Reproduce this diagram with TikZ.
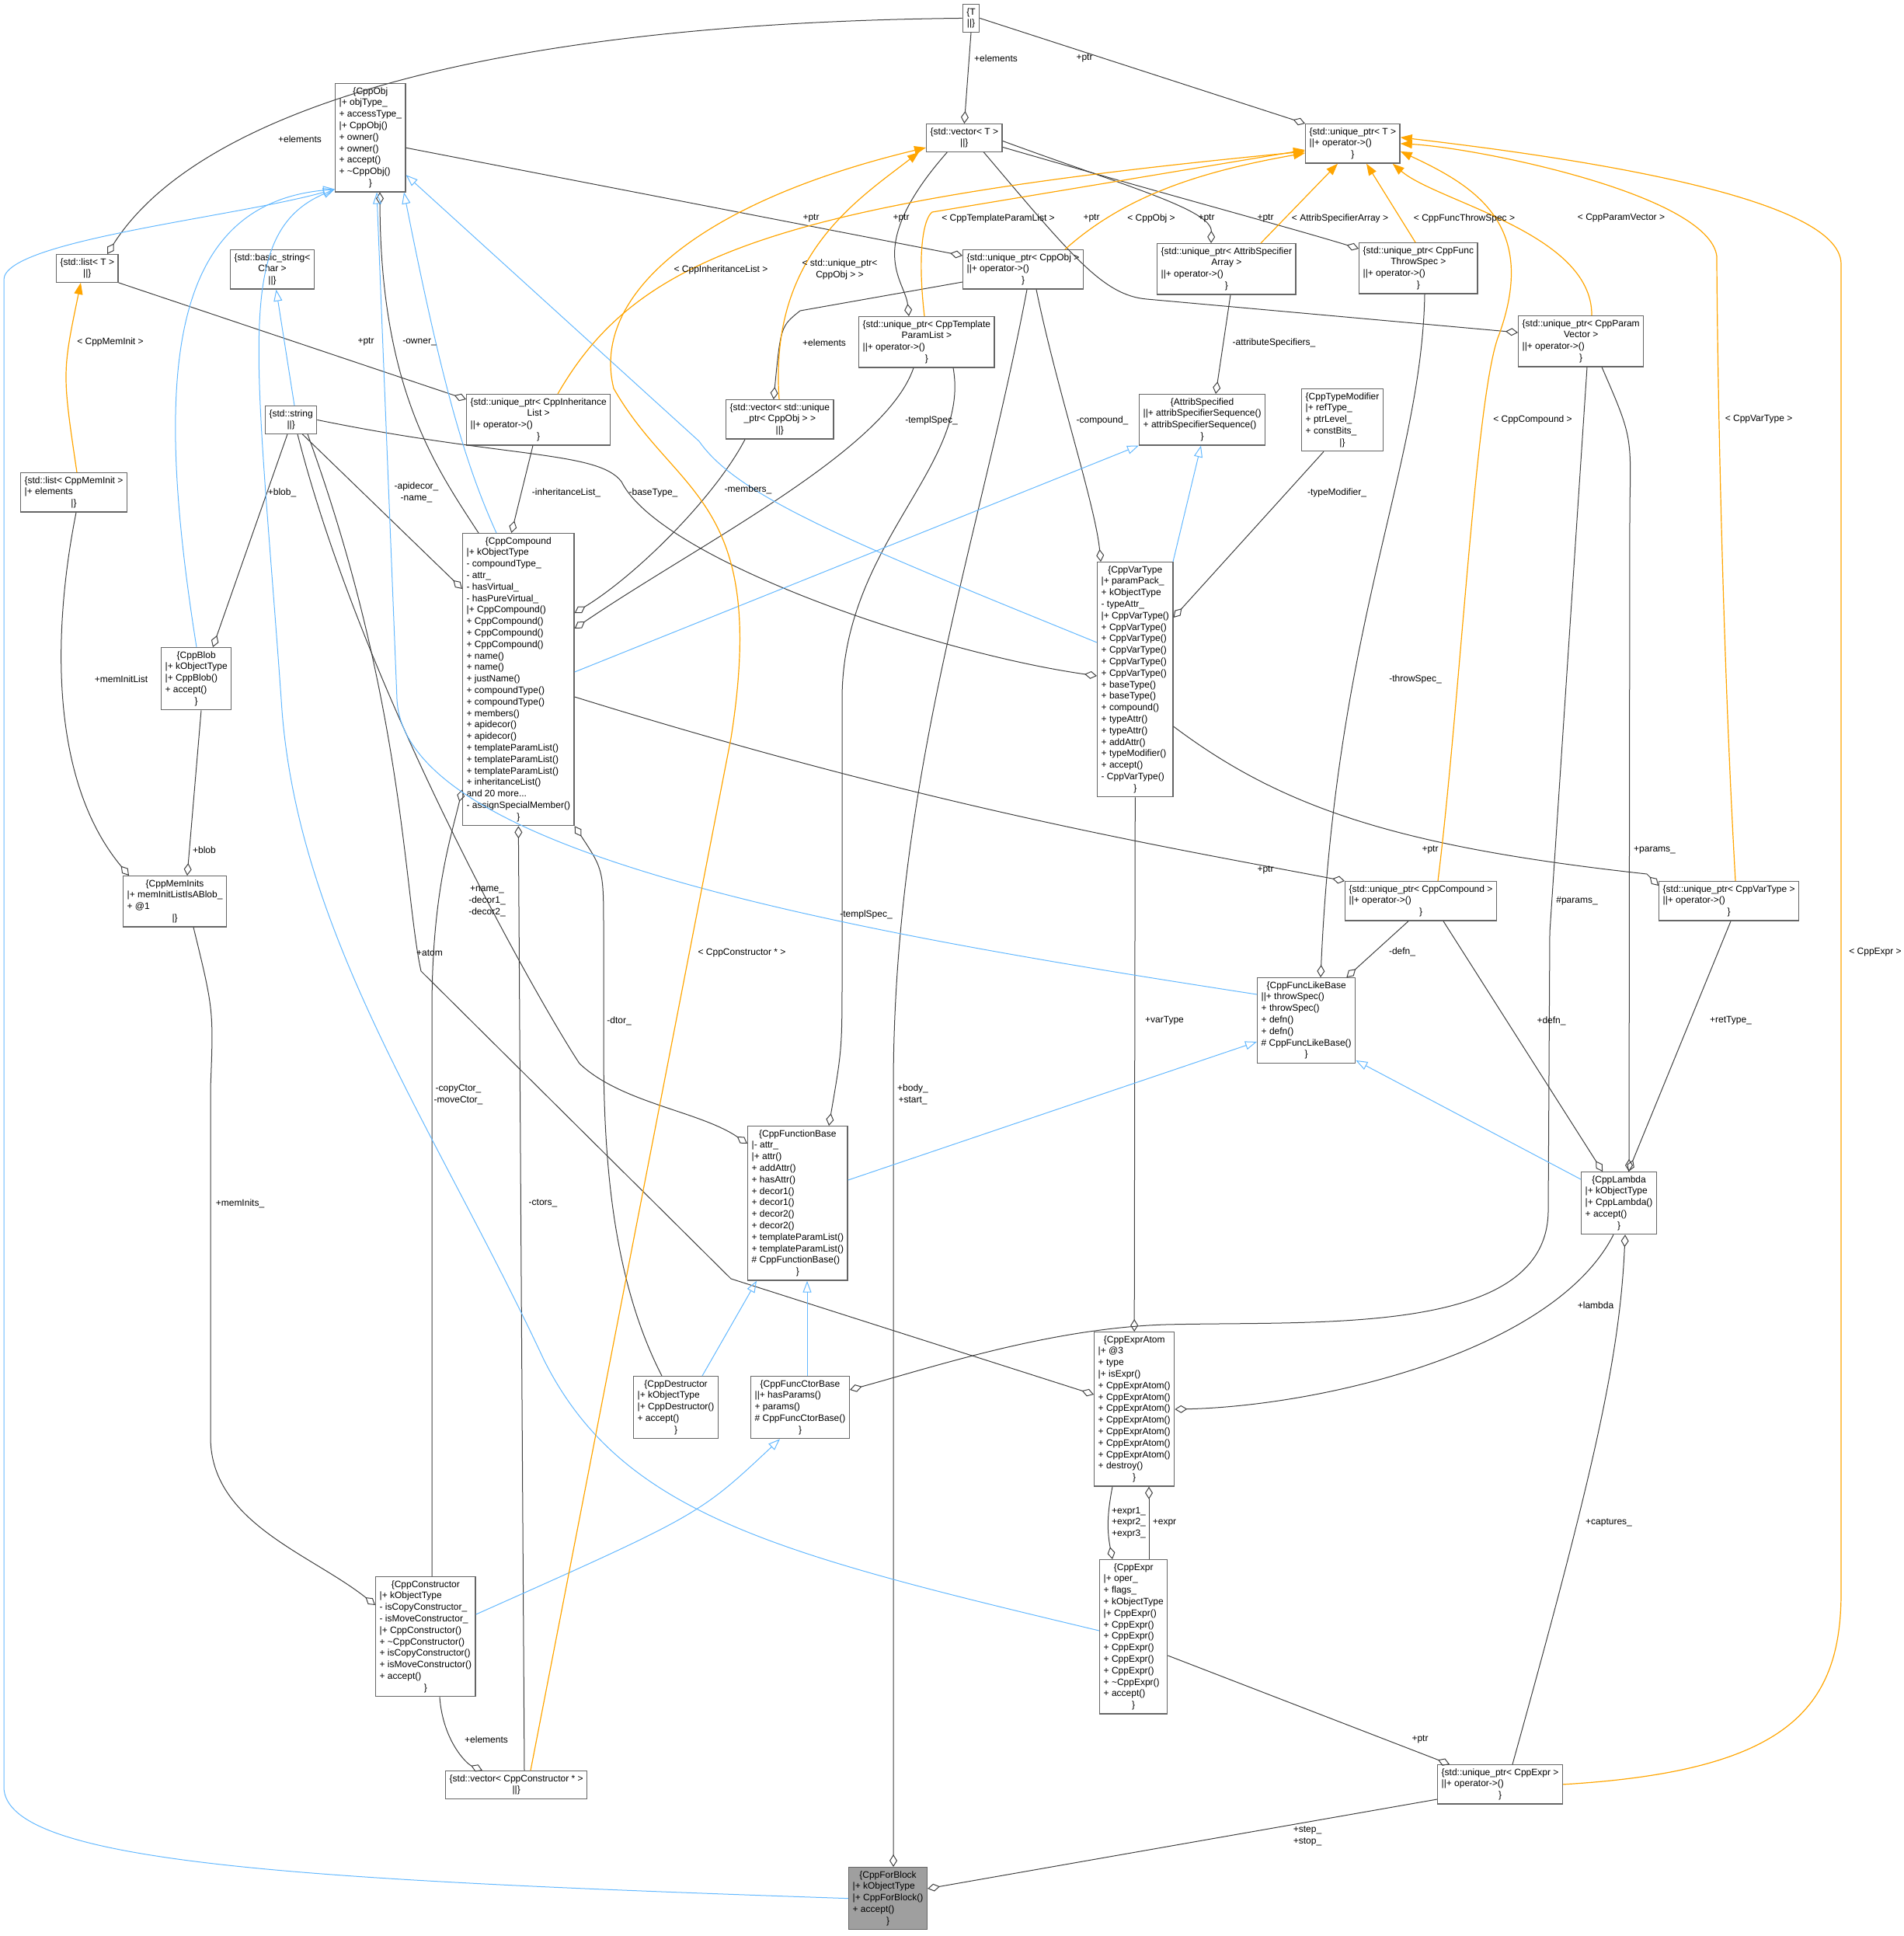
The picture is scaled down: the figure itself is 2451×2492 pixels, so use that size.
\documentclass[tikz,border=0pt]{standalone}
\usepackage{fontspec}
\setmainfont{Liberation Sans}
\usepackage{tikz}
\usetikzlibrary{arrows.meta}
\definecolor{inhblue}{HTML}{63B8FF}
\definecolor{tplorange}{HTML}{FFA500}
\definecolor{memgray}{HTML}{404040}
\newcommand{\cl}[1]{\multicolumn{1}{@{}c@{}}{#1}}
\newcommand{\cbox}[1]{\begin{tabular}{@{}l@{}}#1\end{tabular}}
\newcommand{\umlfont}{\fontsize{12}{14.8}\selectfont}
\tikzset{
  cls/.style={draw=gray!80!black, line width=1.3pt, fill=white, inner xsep=5pt, inner ysep=3pt, font=\umlfont, anchor=north west},
  fwd/.style={cls, fill=gray!75},
  memb/.style={draw=memgray, line width=1pt, -{Diamond[open,length=16pt,width=10pt]}},
  inh/.style={draw=inhblue, line width=1pt, -{Triangle[open,length=15pt,width=11pt]}},
  tmpl/.style={draw=tplorange, line width=1.2pt, -{Triangle[length=15pt,width=11pt]}},
  lbl/.style={font=\umlfont, inner sep=1pt, align=center}
}
\begin{document}
\begin{tikzpicture}[x=1pt,y=-1pt]
    \useasboundingbox (0,0) rectangle (2451,2492);
    % classes
    \node[cls, anchor=north] (T) at (1250,5) {\cbox{\cl{\{T}\\\cl{||\}}}};
    \node[cls] (vecT) at (1192,159) {\cbox{\cl{\{std::vector< T >}\\\cl{||\}}}};
    \node[cls] (uptrT) at (1680,159) {\cbox{\cl{\{std::unique\_ptr< T >}\\||+ operator->()\\\cl{\}}}};
    \node[cls] (CppObj) at (431,107) {\cbox{\cl{\{CppObj}\\|+ objType\_\\+ accessType\_\\|+ CppObj()\\+ owner()\\+ owner()\\+ accept()\\+ \textasciitilde CppObj()\\\cl{\}}}};
    \node[cls] (listT) at (72,327) {\cbox{\cl{\{std::list< T >}\\\cl{||\}}}};
    \node[cls] (basicStr) at (296,321) {\cbox{\cl{\{std::basic\_string<}\\\cl{Char >}\\\cl{||\}}}};
    \node[cls] (stdStr) at (341,522) {\cbox{\cl{\{std::string}\\\cl{||\}}}};
    \node[cls] (uptrInh) at (600,507) {\cbox{\cl{\{std::unique\_ptr< CppInheritance}\\\cl{List >}\\||+ operator->()\\\cl{\}}}};
    \node[cls] (vecUptrObj) at (934,514) {\cbox{\cl{\{std::vector< std::unique}\\\cl{\_ptr< CppObj > >}\\\cl{||\}}}};
    \node[cls] (uptrObj) at (1239,321) {\cbox{\cl{\{std::unique\_ptr< CppObj >}\\||+ operator->()\\\cl{\}}}};
    \node[cls] (uptrTpl) at (1105,407) {\cbox{\cl{\{std::unique\_ptr< CppTemplate}\\\cl{ParamList >}\\||+ operator->()\\\cl{\}}}};
    \node[cls] (uptrAttr) at (1489,313) {\cbox{\cl{\{std::unique\_ptr< AttribSpecifier}\\\cl{Array >}\\||+ operator->()\\\cl{\}}}};
    \node[cls] (uptrThrow) at (1749,312) {\cbox{\cl{\{std::unique\_ptr< CppFunc}\\\cl{ThrowSpec >}\\||+ operator->()\\\cl{\}}}};
    \node[cls] (uptrParam) at (1954,406) {\cbox{\cl{\{std::unique\_ptr< CppParam}\\\cl{Vector >}\\||+ operator->()\\\cl{\}}}};
    \node[cls] (AttribSpecified) at (1466,507) {\cbox{\cl{\{AttribSpecified}\\||+ attribSpecifierSequence()\\+ attribSpecifierSequence()\\\cl{\}}}};
    \node[cls] (CppTypeModifier) at (1675,500) {\cbox{\cl{\{CppTypeModifier}\\|+ refType\_\\+ ptrLevel\_\\+ constBits\_\\\cl{|\}}}};
    \node[cls] (listMemInit) at (26,608) {\cbox{\cl{\{std::list< CppMemInit >}\\|+ elements\\\cl{|\}}}};
    \node[cls] (CppCompound) at (595,686) {\cbox{\cl{\{CppCompound}\\|+ kObjectType\\- compoundType\_\\- attr\_\\- hasVirtual\_\\- hasPureVirtual\_\\|+ CppCompound()\\+ CppCompound()\\+ CppCompound()\\+ CppCompound()\\+ name()\\+ name()\\+ justName()\\+ compoundType()\\+ compoundType()\\+ members()\\+ apidecor()\\+ apidecor()\\+ templateParamList()\\+ templateParamList()\\+ templateParamList()\\+ inheritanceList()\\and 20 more...\\- assignSpecialMember()\\\cl{\}}}};
    \node[cls] (CppBlob) at (207,833) {\cbox{\cl{\{CppBlob}\\|+ kObjectType\\|+ CppBlob()\\+ accept()\\\cl{\}}}};
    \node[cls] (CppVarType) at (1412,723) {\cbox{\cl{\{CppVarType}\\|+ paramPack\_\\+ kObjectType\\- typeAttr\_\\|+ CppVarType()\\+ CppVarType()\\+ CppVarType()\\+ CppVarType()\\+ CppVarType()\\+ CppVarType()\\+ baseType()\\+ baseType()\\+ compound()\\+ typeAttr()\\+ typeAttr()\\+ addAttr()\\+ typeModifier()\\+ accept()\\- CppVarType()\\\cl{\}}}};
    \node[cls] (CppMemInits) at (158,1127) {\cbox{\cl{\{CppMemInits}\\|+ memInitListIsABlob\_\\+ @1\\\cl{|\}}}};
    \node[cls] (uptrCompound) at (1731,1134) {\cbox{\cl{\{std::unique\_ptr< CppCompound >}\\||+ operator->()\\\cl{\}}}};
    \node[cls] (uptrVarType) at (2135,1134) {\cbox{\cl{\{std::unique\_ptr< CppVarType >}\\||+ operator->()\\\cl{\}}}};
    \node[cls] (CppFuncLikeBase) at (1618,1258) {\cbox{\cl{\{CppFuncLikeBase}\\||+ throwSpec()\\+ throwSpec()\\+ defn()\\+ defn()\\\# CppFuncLikeBase()\\\cl{\}}}};
    \node[cls] (CppFunctionBase) at (962,1449) {\cbox{\cl{\{CppFunctionBase}\\|- attr\_\\|+ attr()\\+ addAttr()\\+ hasAttr()\\+ decor1()\\+ decor1()\\+ decor2()\\+ decor2()\\+ templateParamList()\\+ templateParamList()\\\# CppFunctionBase()\\\cl{\}}}};
    \node[cls] (CppLambda) at (2035,1508) {\cbox{\cl{\{CppLambda}\\|+ kObjectType\\|+ CppLambda()\\+ accept()\\\cl{\}}}};
    \node[cls] (CppDestructor) at (815,1771) {\cbox{\cl{\{CppDestructor}\\|+ kObjectType\\|+ CppDestructor()\\+ accept()\\\cl{\}}}};
    \node[cls] (CppFuncCtorBase) at (966,1771) {\cbox{\cl{\{CppFuncCtorBase}\\||+ hasParams()\\+ params()\\\# CppFuncCtorBase()\\\cl{\}}}};
    \node[cls] (CppExprAtom) at (1408,1714) {\cbox{\cl{\{CppExprAtom}\\|+ @3\\+ type\\|+ isExpr()\\+ CppExprAtom()\\+ CppExprAtom()\\+ CppExprAtom()\\+ CppExprAtom()\\+ CppExprAtom()\\+ CppExprAtom()\\+ CppExprAtom()\\+ destroy()\\\cl{\}}}};
    \node[cls] (CppExpr) at (1415,2007) {\cbox{\cl{\{CppExpr}\\|+ oper\_\\+ flags\_\\+ kObjectType\\|+ CppExpr()\\+ CppExpr()\\+ CppExpr()\\+ CppExpr()\\+ CppExpr()\\+ CppExpr()\\+ \textasciitilde CppExpr()\\+ accept()\\\cl{\}}}};
    \node[cls] (CppConstructor) at (483,2029) {\cbox{\cl{\{CppConstructor}\\|+ kObjectType\\- isCopyConstructor\_\\- isMoveConstructor\_\\|+ CppConstructor()\\+ \textasciitilde CppConstructor()\\+ isCopyConstructor()\\+ isMoveConstructor()\\+ accept()\\\cl{\}}}};
    \node[cls] (vecCtor) at (573,2279) {\cbox{\cl{\{std::vector< CppConstructor * >}\\\cl{||\}}}};
    \node[cls] (uptrExpr) at (1850,2271) {\cbox{\cl{\{std::unique\_ptr< CppExpr >}\\||+ operator->()\\\cl{\}}}};
    \node[fwd] (CppForBlock) at (1092,2403) {\cbox{\cl{\{CppForBlock}\\|+ kObjectType\\|+ CppForBlock()\\+ accept()\\\cl{\}}}};

    % members
    \draw[memb] (T.west) .. controls (600,30) and (250,150) .. ([xshift=66pt]listT.north west);
    \draw[memb] (T.south) -- (vecT.north);
    \draw[memb] (T.east) -- (uptrT.north west);
    \draw[memb] ([xshift=-22pt]vecT.south) .. controls (1110,320) and (1165,360) .. ([xshift=65pt]uptrTpl.north west);
    \draw[memb] ([yshift=-4pt]vecT.east) .. controls (1450,240) and (1560,270) .. ([xshift=70pt]uptrAttr.north west);
    \draw[memb] ([yshift=-12pt]vecT.east) .. controls (1500,250) and (1650,290) .. ([yshift=-8pt]uptrThrow.north west);
    \draw[memb] ([xshift=25pt]vecT.south) .. controls (1380,330) and (1420,380) .. (1476,385) -- ([yshift=-22pt]uptrParam.north west);
    \draw[memb] ([yshift=-13pt]CppObj.east) -- ([yshift=-8pt]uptrObj.north west);
    \draw[memb] ([yshift=-42pt]uptrObj.north west) -- (1030,400) .. controls (1005,420) .. ([xshift=-8pt]vecUptrObj.north);
    \draw[memb] (listT.south east) -- ([yshift=-7pt]uptrInh.north west);
    \draw[memb] ([xshift=21pt]CppCompound.north west) .. controls (560,600) and (490,500) .. ([xshift=58pt]CppObj.south west);
    \draw[memb] ([xshift=-19pt]stdStr.south east) -- ([yshift=-72pt]CppCompound.north west);
    \draw[memb] ([xshift=29pt]stdStr.south west) -- ([xshift=67pt]CppBlob.north west);
    \draw[memb] (stdStr.east) .. controls (650,590) and (770,580) .. (800,620) .. controls (850,720) and (1200,840) .. ([yshift=-147pt]CppVarType.north west);
    \draw[memb] ([xshift=42pt]stdStr.south west) .. controls (470,900) and (700,1300) .. (746,1369) .. controls (800,1420) and (900,1430) .. ([yshift=-23pt]CppFunctionBase.north west);
    \draw[memb] ([xshift=55pt]stdStr.south west) .. controls (520,900) and (520,1150) .. (542,1250) -- (941,1646) -- ([yshift=-81pt]CppExprAtom.north west);
    \draw[memb] ([xshift=86pt]uptrInh.south west) -- ([xshift=-9pt]CppCompound.north);
    \draw[memb] ([xshift=25pt]vecUptrObj.south west) .. controls (920,640) and (820,740) .. ([yshift=-103pt]CppCompound.north east);
    \draw[memb] ([xshift=71pt]uptrTpl.south west) .. controls (1140,580) and (900,700) .. ([yshift=-123pt]CppCompound.north east);
    \draw[memb] ([xshift=122pt]uptrTpl.south west) .. controls (1250,600) and (1084,700) .. (1084,900) -- (1084,1250) .. controls (1084,1350) .. ([xshift=105pt]CppFunctionBase.north west);
    \draw[memb] ([xshift=95pt]uptrObj.south west) .. controls (1360,500) and (1410,650) .. ([xshift=5pt]CppVarType.north west);
    \draw[memb] ([xshift=95pt]uptrAttr.south west) -- ([xshift=99pt]AttribSpecified.north west);
    \draw[memb] ([xshift=29pt]CppTypeModifier.south west) -- ([yshift=-72pt]CppVarType.north east);
    \draw[memb] ([xshift=83pt]uptrObj.south west) .. controls (1260,700) and (1150,1000) .. (1150,1400) -- ([xshift=58pt]CppForBlock.north west);
    \draw[memb] ([yshift=-211pt]CppCompound.north east) .. controls (1200,1040) and (1500,1090) .. (uptrCompound.north west);
    \draw[memb] ([yshift=-212pt]CppVarType.north east) .. controls (1650,1040) and (1800,1090) .. (2120,1125) -- ([yshift=-6pt]uptrVarType.north west);
    \draw[memb] ([xshift=85pt]uptrThrow.south west) .. controls (1830,600) and (1720,800) .. ([xshift=82pt]CppFuncLikeBase.north west);
    \draw[memb] ([xshift=82pt]uptrCompound.south west) -- ([xshift=-12pt]CppFuncLikeBase.north east);
    \draw[memb] ([xshift=127pt]uptrCompound.south west) -- ([xshift=28pt]CppLambda.north west);
    \draw[memb] ([xshift=108pt]uptrParam.south west) .. controls (2100,560) .. (2098,650) -- ([xshift=62pt]CppLambda.north west);
    \draw[memb] ([xshift=89pt]uptrParam.south west) -- (1995,1200) -- (1993,1560) .. controls (1990,1720) and (1700,1700) .. (1500,1705) .. controls (1350,1710) and (1200,1760) .. ([yshift=-18pt]CppFuncCtorBase.north east);
    \draw[memb] ([xshift=93pt]uptrVarType.south west) -- ([xshift=-37pt]CppLambda.north east);
    \draw[memb] (CppVarType.south) -- (CppExprAtom.north);
    \draw[memb] ([xshift=42pt]CppLambda.south west) .. controls (2000,1740) and (1700,1810) .. ([yshift=-100pt]CppExprAtom.north east);
    \draw[memb] ([xshift=24pt]CppExprAtom.south west) .. controls (1425,1950) and (1425,1970) .. ([xshift=17pt]CppExpr.north west);
    \draw[memb] ([xshift=64pt]CppExpr.north west) -- ([xshift=71pt]CppExprAtom.south west);
    \draw[memb] ([yshift=-124pt]CppExpr.north east) -- ([xshift=16pt]uptrExpr.north west);
    \draw[memb] ([xshift=97pt]uptrExpr.north west) .. controls (2050,1900) and (2085,1750) .. ([xshift=57pt]CppLambda.south west);
    \draw[memb] ([yshift=-45pt]uptrExpr.north west) -- ([yshift=-28pt]CppForBlock.north east);
    \draw[memb] ([xshift=72pt]listMemInit.south west) .. controls (70,800) and (60,1000) .. ([xshift=8pt]CppMemInits.north west);
    \draw[memb] ([xshift=52pt]CppBlob.south west) -- ([xshift=83pt]CppMemInits.north west);
    \draw[memb] ([xshift=91pt]CppMemInits.south west) .. controls (275,1300) .. (271,1400) -- (271,1850) .. controls (271,1960) and (400,2000) .. ([yshift=-37pt]CppConstructor.north west);
    \draw[memb] ([xshift=73pt]CppConstructor.north west) -- (556,1300) .. controls (556,1150) and (580,1080) .. ([yshift=47pt]CppCompound.south west);
    \draw[memb] ([xshift=102pt]vecCtor.north west) -- (CppCompound.south);
    \draw[memb] ([xshift=37pt]CppDestructor.north west) .. controls (790,1650) and (777,1500) .. (777,1350) -- (777,1200) .. controls (777,1120) .. (CppCompound.south east);
    \draw[memb] ([xshift=83pt]CppConstructor.south west) .. controls (570,2240) and (600,2270) .. ([xshift=48pt]vecCtor.north west);

    % inheritance
    \draw[inh] ([xshift=38pt]stdStr.north west) -- ([xshift=5pt]basicStr.south);
    \draw[inh] ([xshift=44pt]CppCompound.north west) .. controls (600,600) and (570,500) .. ([xshift=89pt]CppObj.south west);
    \draw[inh] ([xshift=46pt]CppBlob.north west) .. controls (200,500) and (210,265) .. ([yshift=4pt]CppObj.south west);
    \draw[inh] ([yshift=-104pt]CppVarType.north west) .. controls (1100,700) and (950,640) .. (900,568) -- ([yshift=-48pt]CppObj.east);
    \draw[inh] ([yshift=-22pt]CppFuncLikeBase.north west) .. controls (1100,1200) and (520,1100) .. (511,900) -- ([xshift=54pt]CppObj.south west);
    \draw[inh] ([yshift=-92pt]CppExpr.north west) .. controls (1000,2000) and (800,1950) .. (700,1750) .. controls (560,1450) and (380,1200) .. (362,900) .. controls (330,450) and (300,300) .. ([yshift=4pt]CppObj.south west);
    \draw[inh] (CppForBlock.west) .. controls (400,2420) and (5,2400) .. (5,2300) -- (5,360) .. controls (5,310) and (300,280) .. ([yshift=4pt]CppObj.south west);
    \draw[inh] ([yshift=-179pt]CppCompound.north east) -- (AttribSpecified.south west);
    \draw[inh] ([xshift=98pt]CppVarType.north west) -- ([xshift=80pt]AttribSpecified.south west);
    \draw[inh] ([yshift=-70pt]CppFunctionBase.north east) -- ([yshift=28pt]CppFuncLikeBase.south west);
    \draw[inh] ([yshift=-10pt]CppLambda.north west) -- ([yshift=4pt]CppFuncLikeBase.south east);
    \draw[inh] ([xshift=89pt]CppDestructor.north west) -- ([xshift=12pt]CppFunctionBase.south west);
    \draw[inh] ([xshift=73pt]CppFuncCtorBase.north west) -- ([xshift=77pt]CppFunctionBase.south west);
    \draw[inh] ([yshift=-49pt]CppConstructor.north east) .. controls (900,1950) .. ([xshift=38pt]CppFuncCtorBase.south west);

    % template instances
    \draw[tmpl] ([xshift=73pt]listMemInit.north west) .. controls (80,480) .. ([xshift=32pt]listT.south west);
    \draw[tmpl] ([xshift=118pt]uptrInh.north west) .. controls (820,330) and (1000,260) .. ([yshift=-36pt]uptrT.north west);
    \draw[tmpl] ([xshift=110pt]vecCtor.north west) -- (941,950) .. controls (990,640) and (870,640) .. (790,500) .. controls (760,380) and (900,260) .. ([yshift=-31pt]vecT.north west);
    \draw[tmpl] ([xshift=69pt]vecUptrObj.north west) .. controls (990,330) and (1100,260) .. ([xshift=-9pt]vecT.south west);
    \draw[tmpl] ([xshift=85pt]uptrTpl.north west) .. controls (1180,320) and (1190,280) .. (1200,273) -- ([yshift=-34pt]uptrT.north west);
    \draw[tmpl] ([xshift=132pt]uptrObj.north west) .. controls (1450,250) and (1550,220) .. ([yshift=-38pt]uptrT.north west);
    \draw[tmpl] ([xshift=134pt]uptrAttr.north west) -- ([xshift=42pt]uptrT.south west);
    \draw[tmpl] ([xshift=73pt]uptrThrow.north west) -- ([xshift=79pt]uptrT.south west);
    \draw[tmpl] ([xshift=95pt]uptrParam.north west) .. controls (2050,300) and (1850,260) .. ([xshift=-10pt]uptrT.south east);
    \draw[tmpl] ([xshift=120pt]uptrCompound.north west) .. controls (1880,900) and (1900,500) .. (1930,430) .. controls (1980,290) and (1900,240) .. ([yshift=-10pt]uptrT.east);
    \draw[tmpl] ([xshift=99pt]uptrVarType.north west) .. controls (2215,800) and (2210,400) .. (2210,330) .. controls (2200,250) and (1900,190) .. (uptrT.east);
    \draw[tmpl] (uptrExpr.east) .. controls (2300,2280) and (2370,2200) .. (2370,2050) -- (2370,340) .. controls (2370,250) and (2000,200) .. ([yshift=8pt]uptrT.east);

    % labels
    \node[lbl] (lElemList) at (386,179) {+elements};
    \node[lbl] (lElemVec) at (1282,75) {+elements};
    \node[lbl] (lPtrT) at (1396,75) {+ptr};
    \node[lbl] (lPtrObj) at (1044,281) {+ptr};
    \node[lbl] (lPtrTpl) at (1160,281) {+ptr};
    \node[lbl] (lPtrParam) at (1405,281) {+ptr};
    \node[lbl] (lPtrAttr) at (1553,281) {+ptr};
    \node[lbl] (lPtrThrow) at (1629,281) {+ptr};
    \node[lbl] (lElemUObj) at (1061,441) {+elements};
    \node[lbl] (lPtrInh) at (471,440) {+ptr};
    \node[lbl] (lOwner) at (540,440) {-owner\_};
    \node[lbl] (lBlobS) at (363,634) {+blob\_};
    \node[lbl] (lApidecor) at (536,634) {-apidecor\_\\-name\_};
    \node[lbl] (lInhList) at (729,634) {-inheritanceList\_};
    \node[lbl] (lBaseType) at (841,634) {-baseType\_};
    \node[lbl] (lMembers) at (963,630) {-members\_};
    \node[lbl] (lTplSpecA) at (1199,541) {-templSpec\_};
    \node[lbl] (lTplSpecB) at (1115,1177) {-templSpec\_};
    \node[lbl] (lCompound) at (1419,541) {-compound\_};
    \node[lbl] (lAttrSpec) at (1640,441) {-attributeSpecifiers\_};
    \node[lbl] (lTypeMod) at (1721,634) {-typeModifier\_};
    \node[lbl] (lThrowSpec) at (1822,874) {-throwSpec\_};
    \node[lbl] (lMemInitList) at (156,874) {+memInitList};
    \node[lbl] (lBlob) at (263,1094) {+blob};
    \node[lbl] (lName) at (627,1160) {+name\_\\-decor1\_\\-decor2\_};
    \node[lbl] (lAtom) at (553,1227) {+atom};
    \node[lbl] (lCopyCtor) at (590,1409) {-copyCtor\_\\-moveCtor\_};
    \node[lbl] (lCtors) at (699,1549) {-ctors\_};
    \node[lbl] (lDtor) at (797,1314) {-dtor\_};
    \node[lbl] (lMemInits) at (309,1549) {+memInits\_};
    \node[lbl] (lBody) at (1175,1409) {+body\_\\+start\_};
    \node[lbl] (lVarType) at (1499,1314) {+varType};
    \node[lbl] (lPtrComp) at (1629,1120) {+ptr};
    \node[lbl] (lPtrVar) at (1841,1094) {+ptr};
    \node[lbl] (lParams) at (2130,1094) {+params\_};
    \node[lbl] (lHParams) at (2030,1160) {\#params\_};
    \node[lbl] (lDefnA) at (1805,1225) {-defn\_};
    \node[lbl] (lDefnB) at (1997,1314) {+defn\_};
    \node[lbl] (lRetType) at (2228,1314) {+retType\_};
    \node[lbl] (lLambda) at (2054,1680) {+lambda};
    \node[lbl] (lCaptures) at (2071,1960) {+captures\_};
    \node[lbl] (lExprN) at (1453,1960) {+expr1\_\\+expr2\_\\+expr3\_};
    \node[lbl] (lExpr) at (1499,1960) {+expr};
    \node[lbl] (lPtrExpr) at (1828,2239) {+ptr};
    \node[lbl] (lStep) at (1683,2363) {+step\_\\+stop\_};
    \node[lbl] (lElemCtor) at (626,2239) {+elements};
    \node[lbl] (tMemInit) at (142,440) {< CppMemInit >};
    \node[lbl] (tInhList) at (928,347) {< CppInheritanceList >};
    \node[lbl] (tUObj) at (1081,347) {< std::unique\_ptr<\\CppObj > >};
    \node[lbl] (tTplList) at (1285,281) {< CppTemplateParamList >};
    \node[lbl] (tObj) at (1482,281) {< CppObj >};
    \node[lbl] (tAttr) at (1725,281) {< AttribSpecifierArray >};
    \node[lbl] (tThrow) at (1885,281) {< CppFuncThrowSpec >};
    \node[lbl] (tParam) at (2087,281) {< CppParamVector >};
    \node[lbl] (tComp) at (1973,540) {< CppCompound >};
    \node[lbl] (tVar) at (2264,540) {< CppVarType >};
    \node[lbl] (tExpr) at (2414,1226) {< CppExpr >};
    \node[lbl] (tCtor) at (955,1227) {< CppConstructor * >};
\end{tikzpicture}
\end{document}
